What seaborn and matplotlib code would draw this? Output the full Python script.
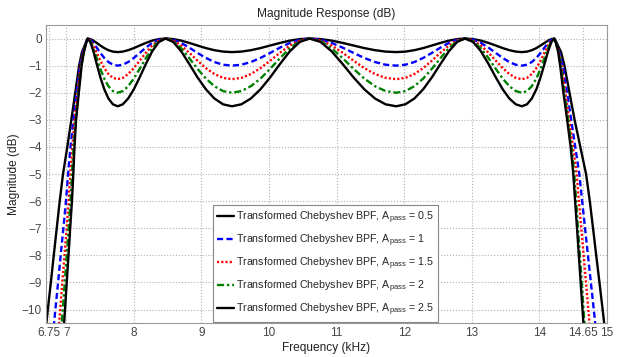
"""
Magnitude response of transformed Chebyshev band-pass filters (5 ripple levels).
Values read from the reference figure.
"""

import numpy as np
import pandas as pd
import matplotlib
import matplotlib.pyplot as plt
import seaborn as sns

matplotlib.use('Agg')

# --- data -------------------------------------------------------------------
# passband grid (kHz), shared by all curves: peak -> trough -> peak ...
passband_freq = [
    7.316, 7.356, 7.401, 7.450, 7.504, 7.562, 7.624, 7.690,
    7.760, 7.836, 7.916, 8.000, 8.087, 8.178, 8.272, 8.370,
    8.470, 8.583, 8.700, 8.819, 8.940, 9.065, 9.191, 9.320,
    9.450, 9.590, 9.731, 9.874, 10.018, 10.163, 10.308, 10.454,
    10.600, 10.763, 10.925, 11.087, 11.248, 11.408, 11.567, 11.724,
    11.880, 12.016, 12.150, 12.281, 12.410, 12.537, 12.661, 12.782,
    12.900, 13.019, 13.134, 13.246, 13.353, 13.456, 13.555, 13.650,
    13.740, 13.816, 13.887, 13.955, 14.017, 14.075, 14.128, 14.177,
    14.220,
]

pass_05 = [
    0, -0.020, -0.077, -0.161, -0.257, -0.352, -0.430, -0.482,
    -0.5, -0.482, -0.430, -0.352, -0.257, -0.161, -0.077, -0.020,
    0, -0.020, -0.077, -0.161, -0.257, -0.352, -0.430, -0.482,
    -0.5, -0.482, -0.430, -0.352, -0.257, -0.161, -0.077, -0.020,
    0, -0.020, -0.077, -0.161, -0.257, -0.352, -0.430, -0.482,
    -0.5, -0.482, -0.430, -0.352, -0.257, -0.161, -0.077, -0.020,
    0, -0.020, -0.077, -0.161, -0.257, -0.352, -0.430, -0.482,
    -0.5, -0.482, -0.430, -0.352, -0.257, -0.161, -0.077, -0.020,
    0,
]
pass_10 = [
    0, -0.043, -0.162, -0.334, -0.529, -0.715, -0.867, -0.966,
    -1.0, -0.966, -0.867, -0.715, -0.529, -0.334, -0.162, -0.043,
    0, -0.043, -0.162, -0.334, -0.529, -0.715, -0.867, -0.966,
    -1.0, -0.966, -0.867, -0.715, -0.529, -0.334, -0.162, -0.043,
    0, -0.043, -0.162, -0.334, -0.529, -0.715, -0.867, -0.966,
    -1.0, -0.966, -0.867, -0.715, -0.529, -0.334, -0.162, -0.043,
    0, -0.043, -0.162, -0.334, -0.529, -0.715, -0.867, -0.966,
    -1.0, -0.966, -0.867, -0.715, -0.529, -0.334, -0.162, -0.043,
    0,
]
pass_15 = [
    0, -0.068, -0.255, -0.521, -0.814, -1.090, -1.310, -1.451,
    -1.5, -1.451, -1.310, -1.090, -0.814, -0.521, -0.255, -0.068,
    0, -0.068, -0.255, -0.521, -0.814, -1.090, -1.310, -1.451,
    -1.5, -1.451, -1.310, -1.090, -0.814, -0.521, -0.255, -0.068,
    0, -0.068, -0.255, -0.521, -0.814, -1.090, -1.310, -1.451,
    -1.5, -1.451, -1.310, -1.090, -0.814, -0.521, -0.255, -0.068,
    0, -0.068, -0.255, -0.521, -0.814, -1.090, -1.310, -1.451,
    -1.5, -1.451, -1.310, -1.090, -0.814, -0.521, -0.255, -0.068,
    0,
]
pass_20 = [
    0, -0.096, -0.357, -0.721, -1.114, -1.475, -1.759, -1.939,
    -2.0, -1.939, -1.759, -1.475, -1.114, -0.721, -0.357, -0.096,
    0, -0.096, -0.357, -0.721, -1.114, -1.475, -1.759, -1.939,
    -2.0, -1.939, -1.759, -1.475, -1.114, -0.721, -0.357, -0.096,
    0, -0.096, -0.357, -0.721, -1.114, -1.475, -1.759, -1.939,
    -2.0, -1.939, -1.759, -1.475, -1.114, -0.721, -0.357, -0.096,
    0, -0.096, -0.357, -0.721, -1.114, -1.475, -1.759, -1.939,
    -2.0, -1.939, -1.759, -1.475, -1.114, -0.721, -0.357, -0.096,
    0,
]
pass_25 = [
    0, -0.127, -0.469, -0.935, -1.428, -1.870, -2.213, -2.427,
    -2.5, -2.427, -2.213, -1.870, -1.428, -0.935, -0.469, -0.127,
    0, -0.127, -0.469, -0.935, -1.428, -1.870, -2.213, -2.427,
    -2.5, -2.427, -2.213, -1.870, -1.428, -0.935, -0.469, -0.127,
    0, -0.127, -0.469, -0.935, -1.428, -1.870, -2.213, -2.427,
    -2.5, -2.427, -2.213, -1.870, -1.428, -0.935, -0.469, -0.127,
    0, -0.127, -0.469, -0.935, -1.428, -1.870, -2.213, -2.427,
    -2.5, -2.427, -2.213, -1.870, -1.428, -0.935, -0.469, -0.127,
    0,
]

# skirts: frequency (kHz) where each curve crosses these levels (dB)
skirt_levels = [-11, -10, -9, -8, -7, -6, -5, -4, -3, -2, -1, -0.5, -0.15]

left_05 = [6.685, 6.727, 6.772, 6.815, 6.859, 6.903, 6.952, 7.015, 7.075, 7.133, 7.190, 7.232, 7.290]
left_10 = [6.800, 6.839, 6.879, 6.917, 6.957, 6.996, 7.027, 7.062, 7.106, 7.153, 7.203, 7.245, 7.292]
left_15 = [6.880, 6.910, 6.942, 6.974, 7.006, 7.036, 7.060, 7.090, 7.124, 7.168, 7.212, 7.252, 7.294]
left_20 = [6.920, 6.948, 6.978, 7.007, 7.036, 7.063, 7.085, 7.108, 7.140, 7.180, 7.222, 7.258, 7.296]
left_25 = [6.955, 6.981, 7.007, 7.033, 7.058, 7.084, 7.104, 7.122, 7.145, 7.186, 7.227, 7.260, 7.297]

right_05 = [14.980, 14.935, 14.888, 14.840, 14.793, 14.745, 14.690, 14.605, 14.520, 14.445, 14.370, 14.320, 14.252]
right_10 = [14.845, 14.804, 14.761, 14.718, 14.675, 14.632, 14.590, 14.530, 14.470, 14.410, 14.345, 14.295, 14.247]
right_15 = [14.757, 14.723, 14.689, 14.654, 14.619, 14.584, 14.551, 14.497, 14.440, 14.385, 14.327, 14.287, 14.245]
right_20 = [14.680, 14.652, 14.625, 14.598, 14.570, 14.543, 14.516, 14.475, 14.425, 14.368, 14.316, 14.282, 14.244]
right_25 = [14.664, 14.637, 14.610, 14.583, 14.556, 14.528, 14.501, 14.462, 14.410, 14.355, 14.307, 14.277, 14.243]

a_pass = ['0.5', '1', '1.5', '2', '2.5']
labels = [f'Transformed Chebyshev BPF, A$_{{pass}}$ = {a}' for a in a_pass]

# --- assemble long table ----------------------------------------------------
curves = [
    (left_05, pass_05, right_05),
    (left_10, pass_10, right_10),
    (left_15, pass_15, right_15),
    (left_20, pass_20, right_20),
    (left_25, pass_25, right_25),
]
frames = []
for lab, (left, mid, right) in zip(labels, curves):
    # right skirt is listed from -11 dB upward -> walk it backwards
    f = list(left) + passband_freq + list(right)[::-1]
    db = skirt_levels + mid + skirt_levels[::-1]
    frames.append(pd.DataFrame({'freq': f, 'mag': db, 'curve': lab}))
df = pd.concat(frames, ignore_index=True)

# --- style ------------------------------------------------------------------
sns.set_theme(style='white')
plt.rcParams['font.family'] = ['Liberation Sans', 'DejaVu Sans']
plt.rcParams['mathtext.default'] = 'regular'

palette = dict(zip(labels, ['black', 'blue', 'red', '#008000', 'black']))
dashes = dict(zip(labels, ['', (2.6, 1.4), (0.9, 0.9), (3.0, 1.2, 1.0, 1.2), '']))

fig, ax = plt.subplots(figsize=(6.24, 3.57), dpi=100)
fig.subplots_adjust(left=0.0737, right=0.9728, bottom=0.095, top=0.93)

sns.lineplot(data=df, x='freq', y='mag', hue='curve', style='curve',
             hue_order=labels, style_order=labels, palette=palette, dashes=dashes,
             sort=False, estimator=None, units='curve', linewidth=1.7, ax=ax)

ax.set_xlim(6.7, 15)
ax.set_ylim(-10.5, 0.5)
xticks = [6.75, 7, 8, 9, 10, 11, 12, 13, 14, 14.65, 15]
ax.set_xticks(xticks)
ax.set_xticklabels(['6.75', '7', '8', '9', '10', '11', '12', '13', '14', '14.65', '15'])
ax.set_yticks(range(-10, 1))
ax.grid(True, color='#b0b0b0', linestyle=':', linewidth=0.8)
ax.tick_params(labelsize=8.5, colors='#444444', length=0, pad=3)
for sp in ax.spines.values():
    sp.set_color('#999999')
    sp.set_linewidth(0.8)

ax.set_title('Magnitude Response (dB)', fontsize=8.6, color='#222222', pad=6)
ax.set_xlabel('Frequency (kHz)', fontsize=8.6, color='#222222', labelpad=2)
ax.set_ylabel('Magnitude (dB)', fontsize=8.6, color='#222222', labelpad=1)

handles, labs = ax.get_legend_handles_labels()
leg = ax.legend(handles, labs, loc='lower center', bbox_to_anchor=(0.498, 0.0),
                borderaxespad=0.1, fontsize=7.7, frameon=True, fancybox=False,
                framealpha=1, edgecolor='#888888', handlelength=1.6,
                handletextpad=0.15, labelspacing=0.62, borderpad=0.4)
leg.get_frame().set_linewidth(0.8)

plt.savefig('out.png', dpi=100)
plt.close()
